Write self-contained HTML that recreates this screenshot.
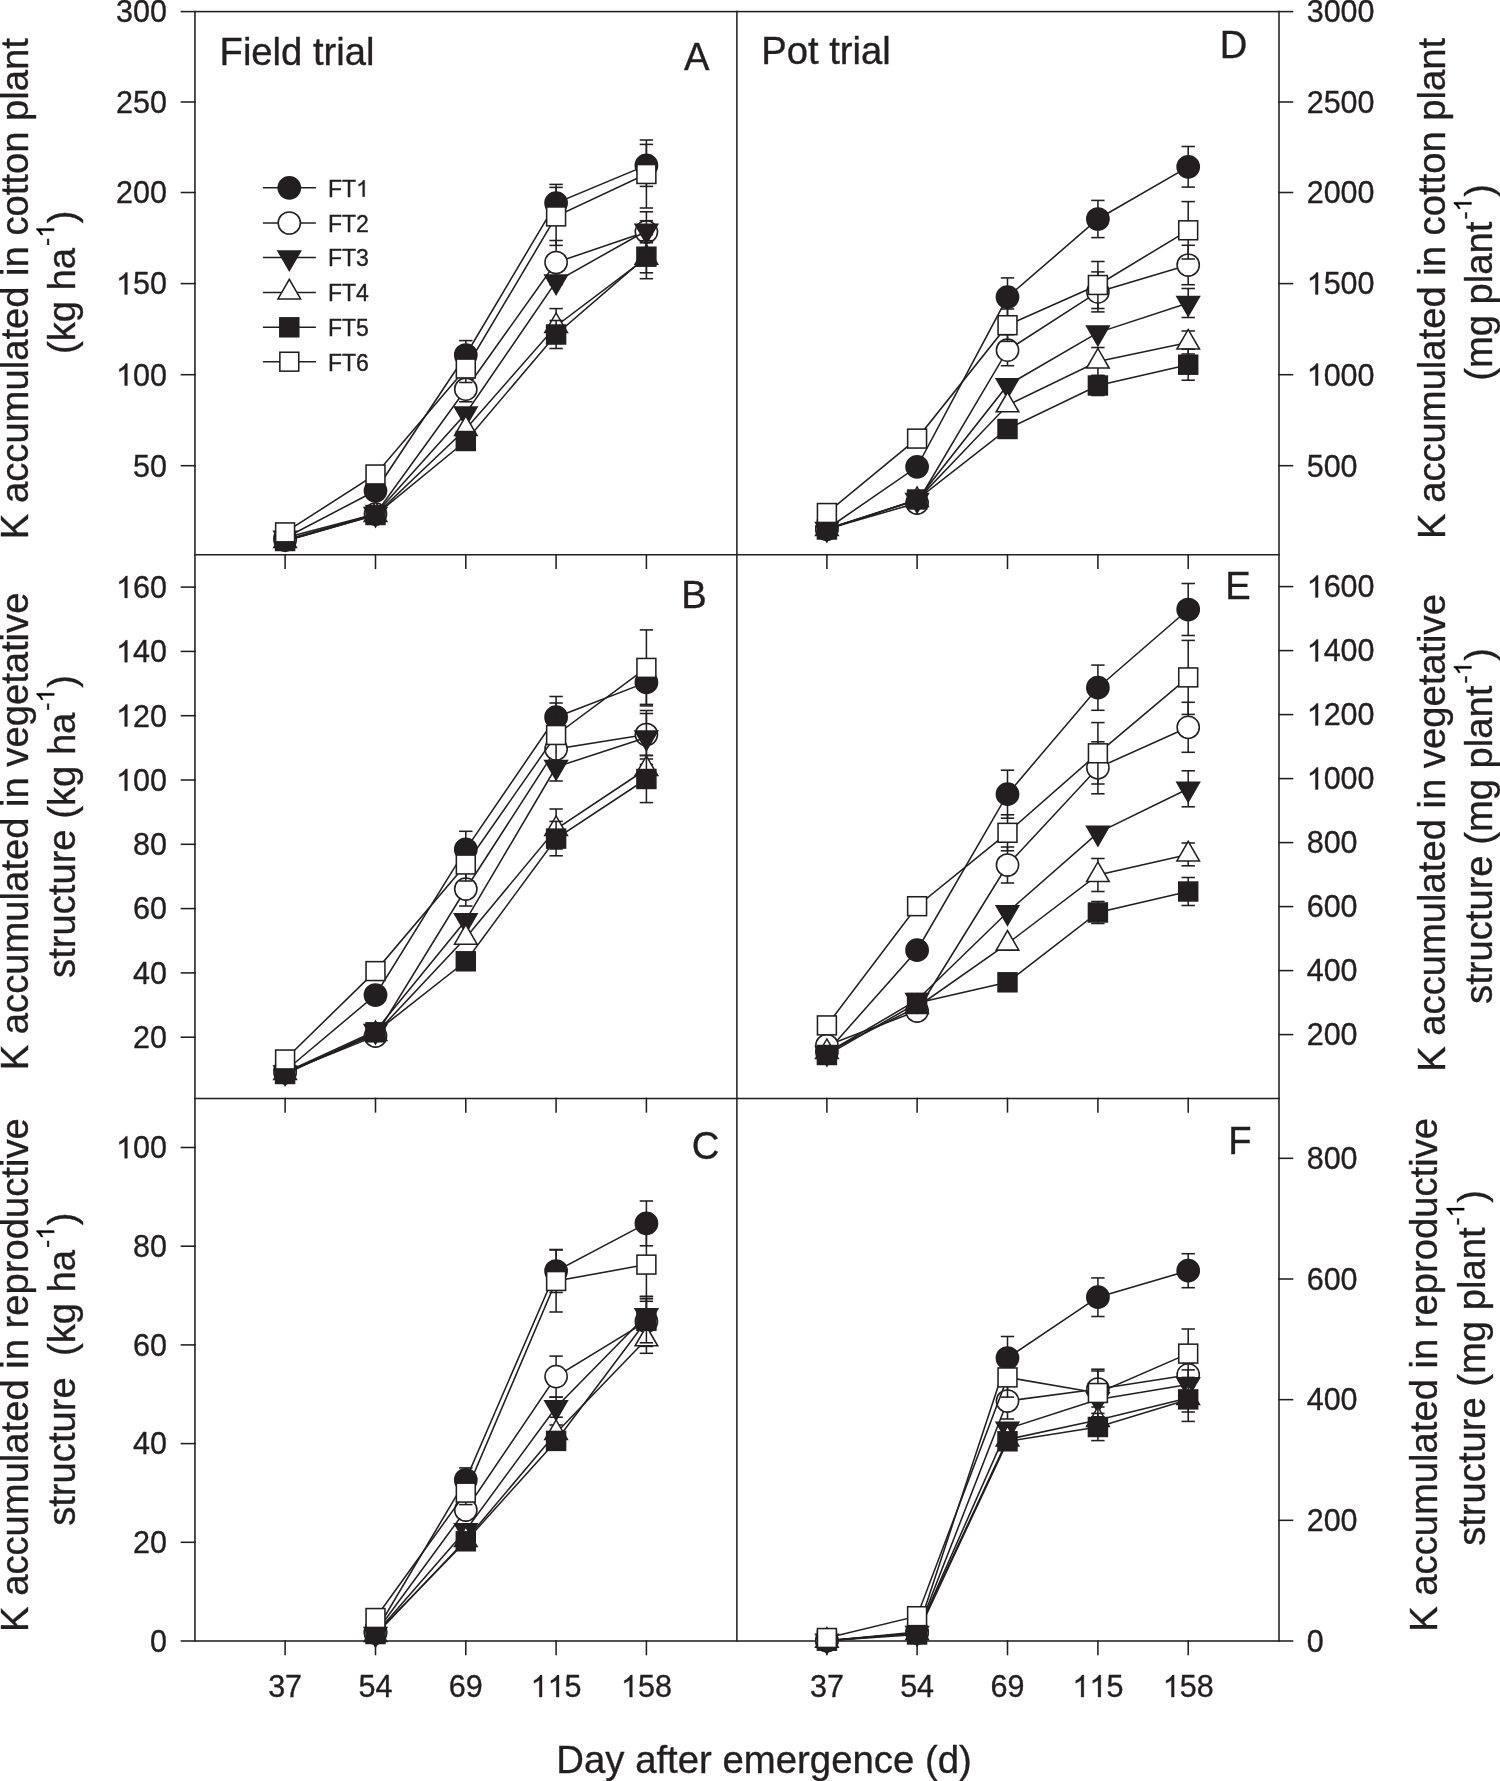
<!DOCTYPE html>
<html><head><meta charset="utf-8"><style>
html,body{margin:0;padding:0;background:#fff;}
svg{display:block;will-change:transform;}
text{font-family:"Liberation Sans", sans-serif;font-kerning:none;font-feature-settings:"kern" 0;}
</style></head><body>
<svg width="1500" height="1781" viewBox="0 0 1500 1781">
<rect width="1500" height="1781" fill="#fff"/>
<g stroke="#231f20" stroke-width="1.55" fill="none" stroke-linecap="square">
<rect x="194.95" y="11.6" width="1084.05" height="1629.40"/>
<line x1="736.90" y1="11.60" x2="736.90" y2="1641.00"/>
<line x1="194.95" y1="554.80" x2="1279.00" y2="554.80"/>
<line x1="194.95" y1="1098.40" x2="1279.00" y2="1098.40"/>
<line x1="181.45" y1="465.70" x2="194.95" y2="465.70"/>
<line x1="181.45" y1="374.70" x2="194.95" y2="374.70"/>
<line x1="181.45" y1="283.60" x2="194.95" y2="283.60"/>
<line x1="181.45" y1="192.50" x2="194.95" y2="192.50"/>
<line x1="181.45" y1="102.00" x2="194.95" y2="102.00"/>
<line x1="181.45" y1="11.60" x2="194.95" y2="11.60"/>
<line x1="181.45" y1="1037.20" x2="194.95" y2="1037.20"/>
<line x1="181.45" y1="972.90" x2="194.95" y2="972.90"/>
<line x1="181.45" y1="908.60" x2="194.95" y2="908.60"/>
<line x1="181.45" y1="844.30" x2="194.95" y2="844.30"/>
<line x1="181.45" y1="780.00" x2="194.95" y2="780.00"/>
<line x1="181.45" y1="715.70" x2="194.95" y2="715.70"/>
<line x1="181.45" y1="651.40" x2="194.95" y2="651.40"/>
<line x1="181.45" y1="587.10" x2="194.95" y2="587.10"/>
<line x1="181.45" y1="1641.00" x2="194.95" y2="1641.00"/>
<line x1="181.45" y1="1542.30" x2="194.95" y2="1542.30"/>
<line x1="181.45" y1="1443.60" x2="194.95" y2="1443.60"/>
<line x1="181.45" y1="1344.90" x2="194.95" y2="1344.90"/>
<line x1="181.45" y1="1246.20" x2="194.95" y2="1246.20"/>
<line x1="181.45" y1="1147.50" x2="194.95" y2="1147.50"/>
<line x1="1279.00" y1="465.70" x2="1292.50" y2="465.70"/>
<line x1="1279.00" y1="374.70" x2="1292.50" y2="374.70"/>
<line x1="1279.00" y1="283.60" x2="1292.50" y2="283.60"/>
<line x1="1279.00" y1="192.50" x2="1292.50" y2="192.50"/>
<line x1="1279.00" y1="102.00" x2="1292.50" y2="102.00"/>
<line x1="1279.00" y1="11.60" x2="1292.50" y2="11.60"/>
<line x1="1279.00" y1="1034.60" x2="1292.50" y2="1034.60"/>
<line x1="1279.00" y1="970.60" x2="1292.50" y2="970.60"/>
<line x1="1279.00" y1="906.60" x2="1292.50" y2="906.60"/>
<line x1="1279.00" y1="842.60" x2="1292.50" y2="842.60"/>
<line x1="1279.00" y1="778.60" x2="1292.50" y2="778.60"/>
<line x1="1279.00" y1="714.60" x2="1292.50" y2="714.60"/>
<line x1="1279.00" y1="650.60" x2="1292.50" y2="650.60"/>
<line x1="1279.00" y1="586.60" x2="1292.50" y2="586.60"/>
<line x1="1279.00" y1="1641.00" x2="1292.50" y2="1641.00"/>
<line x1="1279.00" y1="1520.33" x2="1292.50" y2="1520.33"/>
<line x1="1279.00" y1="1399.66" x2="1292.50" y2="1399.66"/>
<line x1="1279.00" y1="1278.99" x2="1292.50" y2="1278.99"/>
<line x1="1279.00" y1="1158.32" x2="1292.50" y2="1158.32"/>
<line x1="285.10" y1="554.80" x2="285.10" y2="568.30"/>
<line x1="375.50" y1="554.80" x2="375.50" y2="568.30"/>
<line x1="465.80" y1="554.80" x2="465.80" y2="568.30"/>
<line x1="556.10" y1="554.80" x2="556.10" y2="568.30"/>
<line x1="646.40" y1="554.80" x2="646.40" y2="568.30"/>
<line x1="826.90" y1="554.80" x2="826.90" y2="568.30"/>
<line x1="917.10" y1="554.80" x2="917.10" y2="568.30"/>
<line x1="1007.50" y1="554.80" x2="1007.50" y2="568.30"/>
<line x1="1097.90" y1="554.80" x2="1097.90" y2="568.30"/>
<line x1="1188.20" y1="554.80" x2="1188.20" y2="568.30"/>
<line x1="285.10" y1="1098.40" x2="285.10" y2="1111.90"/>
<line x1="375.50" y1="1098.40" x2="375.50" y2="1111.90"/>
<line x1="465.80" y1="1098.40" x2="465.80" y2="1111.90"/>
<line x1="556.10" y1="1098.40" x2="556.10" y2="1111.90"/>
<line x1="646.40" y1="1098.40" x2="646.40" y2="1111.90"/>
<line x1="826.90" y1="1098.40" x2="826.90" y2="1111.90"/>
<line x1="917.10" y1="1098.40" x2="917.10" y2="1111.90"/>
<line x1="1007.50" y1="1098.40" x2="1007.50" y2="1111.90"/>
<line x1="1097.90" y1="1098.40" x2="1097.90" y2="1111.90"/>
<line x1="1188.20" y1="1098.40" x2="1188.20" y2="1111.90"/>
<line x1="285.10" y1="1641.00" x2="285.10" y2="1654.50"/>
<line x1="375.50" y1="1641.00" x2="375.50" y2="1654.50"/>
<line x1="465.80" y1="1641.00" x2="465.80" y2="1654.50"/>
<line x1="556.10" y1="1641.00" x2="556.10" y2="1654.50"/>
<line x1="646.40" y1="1641.00" x2="646.40" y2="1654.50"/>
<line x1="826.90" y1="1641.00" x2="826.90" y2="1654.50"/>
<line x1="917.10" y1="1641.00" x2="917.10" y2="1654.50"/>
<line x1="1007.50" y1="1641.00" x2="1007.50" y2="1654.50"/>
<line x1="1097.90" y1="1641.00" x2="1097.90" y2="1654.50"/>
<line x1="1188.20" y1="1641.00" x2="1188.20" y2="1654.50"/>
</g>
<g stroke="#231f20" stroke-width="1.55" fill="none">
<polyline fill="none" points="285.10,538.00 375.50,490.80 465.80,355.00 556.10,203.10 646.40,165.40"/>
<line x1="375.50" y1="486.80" x2="375.50" y2="494.80"/>
<line x1="368.80" y1="486.80" x2="382.20" y2="486.80"/>
<line x1="368.80" y1="494.80" x2="382.20" y2="494.80"/>
<line x1="465.80" y1="340.60" x2="465.80" y2="369.40"/>
<line x1="459.10" y1="340.60" x2="472.50" y2="340.60"/>
<line x1="459.10" y1="369.40" x2="472.50" y2="369.40"/>
<line x1="556.10" y1="184.40" x2="556.10" y2="221.80"/>
<line x1="549.40" y1="184.40" x2="562.80" y2="184.40"/>
<line x1="549.40" y1="221.80" x2="562.80" y2="221.80"/>
<line x1="646.40" y1="144.40" x2="646.40" y2="186.40"/>
<line x1="639.70" y1="144.40" x2="653.10" y2="144.40"/>
<line x1="639.70" y1="186.40" x2="653.10" y2="186.40"/>
<circle cx="285.10" cy="538.00" r="11.1" fill="#231f20"/>
<circle cx="375.50" cy="490.80" r="11.1" fill="#231f20"/>
<circle cx="465.80" cy="355.00" r="11.1" fill="#231f20"/>
<circle cx="556.10" cy="203.10" r="11.1" fill="#231f20"/>
<circle cx="646.40" cy="165.40" r="11.1" fill="#231f20"/>
<polyline fill="none" points="285.10,540.00 375.50,514.00 465.80,389.20 556.10,262.50 646.40,231.80"/>
<line x1="465.80" y1="376.60" x2="465.80" y2="401.80"/>
<line x1="459.10" y1="376.60" x2="472.50" y2="376.60"/>
<line x1="459.10" y1="401.80" x2="472.50" y2="401.80"/>
<line x1="556.10" y1="240.50" x2="556.10" y2="284.50"/>
<line x1="549.40" y1="240.50" x2="562.80" y2="240.50"/>
<line x1="549.40" y1="284.50" x2="562.80" y2="284.50"/>
<line x1="646.40" y1="211.80" x2="646.40" y2="251.80"/>
<line x1="639.70" y1="211.80" x2="653.10" y2="211.80"/>
<line x1="639.70" y1="251.80" x2="653.10" y2="251.80"/>
<circle cx="285.10" cy="540.00" r="11.1" fill="#fff"/>
<circle cx="375.50" cy="514.00" r="11.1" fill="#fff"/>
<circle cx="465.80" cy="389.20" r="11.1" fill="#fff"/>
<circle cx="556.10" cy="262.50" r="11.1" fill="#fff"/>
<circle cx="646.40" cy="231.80" r="11.1" fill="#fff"/>
<polyline fill="none" points="285.10,537.80 375.50,514.00 465.80,413.50 556.10,281.50 646.40,230.70"/>
<line x1="646.40" y1="220.70" x2="646.40" y2="240.70"/>
<line x1="639.70" y1="220.70" x2="653.10" y2="220.70"/>
<line x1="639.70" y1="240.70" x2="653.10" y2="240.70"/>
<polygon points="273.80,531.28 296.40,531.28 285.10,550.85" fill="#231f20"/>
<polygon points="364.20,507.48 386.80,507.48 375.50,527.05" fill="#231f20"/>
<polygon points="454.50,406.98 477.10,406.98 465.80,426.55" fill="#231f20"/>
<polygon points="544.80,274.98 567.40,274.98 556.10,294.55" fill="#231f20"/>
<polygon points="635.10,224.18 657.70,224.18 646.40,243.75" fill="#231f20"/>
<polyline fill="none" points="285.10,541.00 375.50,515.00 465.80,429.00 556.10,326.00 646.40,257.80"/>
<line x1="556.10" y1="308.60" x2="556.10" y2="343.40"/>
<line x1="549.40" y1="308.60" x2="562.80" y2="308.60"/>
<line x1="549.40" y1="343.40" x2="562.80" y2="343.40"/>
<line x1="646.40" y1="242.80" x2="646.40" y2="272.80"/>
<line x1="639.70" y1="242.80" x2="653.10" y2="242.80"/>
<line x1="639.70" y1="272.80" x2="653.10" y2="272.80"/>
<polygon points="273.80,547.52 296.40,547.52 285.10,527.95" fill="#fff"/>
<polygon points="364.20,521.52 386.80,521.52 375.50,501.95" fill="#fff"/>
<polygon points="454.50,435.52 477.10,435.52 465.80,415.95" fill="#fff"/>
<polygon points="544.80,332.52 567.40,332.52 556.10,312.95" fill="#fff"/>
<polygon points="635.10,264.32 657.70,264.32 646.40,244.75" fill="#fff"/>
<polyline fill="none" points="285.10,541.00 375.50,515.00 465.80,441.00 556.10,334.50 646.40,256.70"/>
<line x1="556.10" y1="320.50" x2="556.10" y2="348.50"/>
<line x1="549.40" y1="320.50" x2="562.80" y2="320.50"/>
<line x1="549.40" y1="348.50" x2="562.80" y2="348.50"/>
<line x1="646.40" y1="234.70" x2="646.40" y2="278.70"/>
<line x1="639.70" y1="234.70" x2="653.10" y2="234.70"/>
<line x1="639.70" y1="278.70" x2="653.10" y2="278.70"/>
<rect x="275.65" y="531.55" width="18.9" height="18.9" fill="#231f20"/>
<rect x="366.05" y="505.55" width="18.9" height="18.9" fill="#231f20"/>
<rect x="456.35" y="431.55" width="18.9" height="18.9" fill="#231f20"/>
<rect x="546.65" y="325.05" width="18.9" height="18.9" fill="#231f20"/>
<rect x="636.95" y="247.25" width="18.9" height="18.9" fill="#231f20"/>
<polyline fill="none" points="285.10,532.40 375.50,474.50 465.80,368.50 556.10,216.40 646.40,174.00"/>
<line x1="375.50" y1="470.50" x2="375.50" y2="478.50"/>
<line x1="368.80" y1="470.50" x2="382.20" y2="470.50"/>
<line x1="368.80" y1="478.50" x2="382.20" y2="478.50"/>
<line x1="465.80" y1="354.50" x2="465.80" y2="382.50"/>
<line x1="459.10" y1="354.50" x2="472.50" y2="354.50"/>
<line x1="459.10" y1="382.50" x2="472.50" y2="382.50"/>
<line x1="556.10" y1="187.40" x2="556.10" y2="245.40"/>
<line x1="549.40" y1="187.40" x2="562.80" y2="187.40"/>
<line x1="549.40" y1="245.40" x2="562.80" y2="245.40"/>
<line x1="646.40" y1="140.00" x2="646.40" y2="208.00"/>
<line x1="639.70" y1="140.00" x2="653.10" y2="140.00"/>
<line x1="639.70" y1="208.00" x2="653.10" y2="208.00"/>
<rect x="275.65" y="522.95" width="18.9" height="18.9" fill="#fff"/>
<rect x="366.05" y="465.05" width="18.9" height="18.9" fill="#fff"/>
<rect x="456.35" y="359.05" width="18.9" height="18.9" fill="#fff"/>
<rect x="546.65" y="206.95" width="18.9" height="18.9" fill="#fff"/>
<rect x="636.95" y="164.55" width="18.9" height="18.9" fill="#fff"/>
<polyline fill="none" points="285.10,1071.00 375.50,995.00 465.80,849.30 556.10,717.20 646.40,682.40"/>
<line x1="465.80" y1="831.30" x2="465.80" y2="867.30"/>
<line x1="459.10" y1="831.30" x2="472.50" y2="831.30"/>
<line x1="459.10" y1="867.30" x2="472.50" y2="867.30"/>
<line x1="556.10" y1="696.50" x2="556.10" y2="737.90"/>
<line x1="549.40" y1="696.50" x2="562.80" y2="696.50"/>
<line x1="549.40" y1="737.90" x2="562.80" y2="737.90"/>
<line x1="646.40" y1="660.40" x2="646.40" y2="704.40"/>
<line x1="639.70" y1="660.40" x2="653.10" y2="660.40"/>
<line x1="639.70" y1="704.40" x2="653.10" y2="704.40"/>
<circle cx="285.10" cy="1071.00" r="11.1" fill="#231f20"/>
<circle cx="375.50" cy="995.00" r="11.1" fill="#231f20"/>
<circle cx="465.80" cy="849.30" r="11.1" fill="#231f20"/>
<circle cx="556.10" cy="717.20" r="11.1" fill="#231f20"/>
<circle cx="646.40" cy="682.40" r="11.1" fill="#231f20"/>
<polyline fill="none" points="285.10,1072.50 375.50,1036.00 465.80,889.00 556.10,749.00 646.40,734.50"/>
<line x1="465.80" y1="872.00" x2="465.80" y2="906.00"/>
<line x1="459.10" y1="872.00" x2="472.50" y2="872.00"/>
<line x1="459.10" y1="906.00" x2="472.50" y2="906.00"/>
<line x1="556.10" y1="717.00" x2="556.10" y2="781.00"/>
<line x1="549.40" y1="717.00" x2="562.80" y2="717.00"/>
<line x1="549.40" y1="781.00" x2="562.80" y2="781.00"/>
<line x1="646.40" y1="713.50" x2="646.40" y2="755.50"/>
<line x1="639.70" y1="713.50" x2="653.10" y2="713.50"/>
<line x1="639.70" y1="755.50" x2="653.10" y2="755.50"/>
<circle cx="285.10" cy="1072.50" r="11.1" fill="#fff"/>
<circle cx="375.50" cy="1036.00" r="11.1" fill="#fff"/>
<circle cx="465.80" cy="889.00" r="11.1" fill="#fff"/>
<circle cx="556.10" cy="749.00" r="11.1" fill="#fff"/>
<circle cx="646.40" cy="734.50" r="11.1" fill="#fff"/>
<polyline fill="none" points="285.10,1072.50 375.50,1031.00 465.80,920.30 556.10,767.00 646.40,737.50"/>
<line x1="646.40" y1="710.50" x2="646.40" y2="764.50"/>
<line x1="639.70" y1="710.50" x2="653.10" y2="710.50"/>
<line x1="639.70" y1="764.50" x2="653.10" y2="764.50"/>
<polygon points="273.80,1065.98 296.40,1065.98 285.10,1085.55" fill="#231f20"/>
<polygon points="364.20,1024.48 386.80,1024.48 375.50,1044.05" fill="#231f20"/>
<polygon points="454.50,913.78 477.10,913.78 465.80,933.35" fill="#231f20"/>
<polygon points="544.80,760.48 567.40,760.48 556.10,780.05" fill="#231f20"/>
<polygon points="635.10,730.98 657.70,730.98 646.40,750.55" fill="#231f20"/>
<polyline fill="none" points="285.10,1073.00 375.50,1034.00 465.80,937.70 556.10,829.00 646.40,769.00"/>
<line x1="556.10" y1="809.00" x2="556.10" y2="849.00"/>
<line x1="549.40" y1="809.00" x2="562.80" y2="809.00"/>
<line x1="549.40" y1="849.00" x2="562.80" y2="849.00"/>
<line x1="646.40" y1="759.00" x2="646.40" y2="779.00"/>
<line x1="639.70" y1="759.00" x2="653.10" y2="759.00"/>
<line x1="639.70" y1="779.00" x2="653.10" y2="779.00"/>
<polygon points="273.80,1079.52 296.40,1079.52 285.10,1059.95" fill="#fff"/>
<polygon points="364.20,1040.52 386.80,1040.52 375.50,1020.95" fill="#fff"/>
<polygon points="454.50,944.22 477.10,944.22 465.80,924.65" fill="#fff"/>
<polygon points="544.80,835.52 567.40,835.52 556.10,815.95" fill="#fff"/>
<polygon points="635.10,775.52 657.70,775.52 646.40,755.95" fill="#fff"/>
<polyline fill="none" points="285.10,1074.00 375.50,1032.30 465.80,961.30 556.10,838.60 646.40,779.00"/>
<line x1="556.10" y1="821.40" x2="556.10" y2="855.80"/>
<line x1="549.40" y1="821.40" x2="562.80" y2="821.40"/>
<line x1="549.40" y1="855.80" x2="562.80" y2="855.80"/>
<line x1="646.40" y1="755.40" x2="646.40" y2="802.60"/>
<line x1="639.70" y1="755.40" x2="653.10" y2="755.40"/>
<line x1="639.70" y1="802.60" x2="653.10" y2="802.60"/>
<rect x="275.65" y="1064.55" width="18.9" height="18.9" fill="#231f20"/>
<rect x="366.05" y="1022.85" width="18.9" height="18.9" fill="#231f20"/>
<rect x="456.35" y="951.85" width="18.9" height="18.9" fill="#231f20"/>
<rect x="546.65" y="829.15" width="18.9" height="18.9" fill="#231f20"/>
<rect x="636.95" y="769.55" width="18.9" height="18.9" fill="#231f20"/>
<polyline fill="none" points="285.10,1059.50 375.50,971.10 465.80,864.50 556.10,735.00 646.40,667.90"/>
<line x1="465.80" y1="848.00" x2="465.80" y2="881.00"/>
<line x1="459.10" y1="848.00" x2="472.50" y2="848.00"/>
<line x1="459.10" y1="881.00" x2="472.50" y2="881.00"/>
<line x1="556.10" y1="703.00" x2="556.10" y2="767.00"/>
<line x1="549.40" y1="703.00" x2="562.80" y2="703.00"/>
<line x1="549.40" y1="767.00" x2="562.80" y2="767.00"/>
<line x1="646.40" y1="629.90" x2="646.40" y2="705.90"/>
<line x1="639.70" y1="629.90" x2="653.10" y2="629.90"/>
<line x1="639.70" y1="705.90" x2="653.10" y2="705.90"/>
<rect x="275.65" y="1050.05" width="18.9" height="18.9" fill="#fff"/>
<rect x="366.05" y="961.65" width="18.9" height="18.9" fill="#fff"/>
<rect x="456.35" y="855.05" width="18.9" height="18.9" fill="#fff"/>
<rect x="546.65" y="725.55" width="18.9" height="18.9" fill="#fff"/>
<rect x="636.95" y="658.45" width="18.9" height="18.9" fill="#fff"/>
<polyline fill="none" points="375.50,1632.00 465.80,1479.90 556.10,1271.00 646.40,1223.40"/>
<line x1="465.80" y1="1467.90" x2="465.80" y2="1491.90"/>
<line x1="459.10" y1="1467.90" x2="472.50" y2="1467.90"/>
<line x1="459.10" y1="1491.90" x2="472.50" y2="1491.90"/>
<line x1="556.10" y1="1249.50" x2="556.10" y2="1292.50"/>
<line x1="549.40" y1="1249.50" x2="562.80" y2="1249.50"/>
<line x1="549.40" y1="1292.50" x2="562.80" y2="1292.50"/>
<line x1="646.40" y1="1201.00" x2="646.40" y2="1245.80"/>
<line x1="639.70" y1="1201.00" x2="653.10" y2="1201.00"/>
<line x1="639.70" y1="1245.80" x2="653.10" y2="1245.80"/>
<circle cx="375.50" cy="1632.00" r="11.1" fill="#231f20"/>
<circle cx="465.80" cy="1479.90" r="11.1" fill="#231f20"/>
<circle cx="556.10" cy="1271.00" r="11.1" fill="#231f20"/>
<circle cx="646.40" cy="1223.40" r="11.1" fill="#231f20"/>
<polyline fill="none" points="375.50,1633.00 465.80,1510.00 556.10,1376.60 646.40,1321.40"/>
<line x1="465.80" y1="1502.00" x2="465.80" y2="1518.00"/>
<line x1="459.10" y1="1502.00" x2="472.50" y2="1502.00"/>
<line x1="459.10" y1="1518.00" x2="472.50" y2="1518.00"/>
<line x1="556.10" y1="1356.10" x2="556.10" y2="1397.10"/>
<line x1="549.40" y1="1356.10" x2="562.80" y2="1356.10"/>
<line x1="549.40" y1="1397.10" x2="562.80" y2="1397.10"/>
<line x1="646.40" y1="1296.40" x2="646.40" y2="1346.40"/>
<line x1="639.70" y1="1296.40" x2="653.10" y2="1296.40"/>
<line x1="639.70" y1="1346.40" x2="653.10" y2="1346.40"/>
<circle cx="375.50" cy="1633.00" r="11.1" fill="#fff"/>
<circle cx="465.80" cy="1510.00" r="11.1" fill="#fff"/>
<circle cx="556.10" cy="1376.60" r="11.1" fill="#fff"/>
<circle cx="646.40" cy="1321.40" r="11.1" fill="#fff"/>
<polyline fill="none" points="375.50,1634.00 465.80,1530.30 556.10,1407.20 646.40,1315.30"/>
<line x1="556.10" y1="1397.20" x2="556.10" y2="1417.20"/>
<line x1="549.40" y1="1397.20" x2="562.80" y2="1397.20"/>
<line x1="549.40" y1="1417.20" x2="562.80" y2="1417.20"/>
<line x1="646.40" y1="1301.30" x2="646.40" y2="1329.30"/>
<line x1="639.70" y1="1301.30" x2="653.10" y2="1301.30"/>
<line x1="639.70" y1="1329.30" x2="653.10" y2="1329.30"/>
<polygon points="364.20,1627.48 386.80,1627.48 375.50,1647.05" fill="#231f20"/>
<polygon points="454.50,1523.78 477.10,1523.78 465.80,1543.35" fill="#231f20"/>
<polygon points="544.80,1400.68 567.40,1400.68 556.10,1420.25" fill="#231f20"/>
<polygon points="635.10,1308.78 657.70,1308.78 646.40,1328.35" fill="#231f20"/>
<polyline fill="none" points="375.50,1635.00 465.80,1540.00 556.10,1433.00 646.40,1339.30"/>
<line x1="556.10" y1="1425.00" x2="556.10" y2="1441.00"/>
<line x1="549.40" y1="1425.00" x2="562.80" y2="1425.00"/>
<line x1="549.40" y1="1441.00" x2="562.80" y2="1441.00"/>
<line x1="646.40" y1="1325.30" x2="646.40" y2="1353.30"/>
<line x1="639.70" y1="1325.30" x2="653.10" y2="1325.30"/>
<line x1="639.70" y1="1353.30" x2="653.10" y2="1353.30"/>
<polygon points="364.20,1641.52 386.80,1641.52 375.50,1621.95" fill="#fff"/>
<polygon points="454.50,1546.52 477.10,1546.52 465.80,1526.95" fill="#fff"/>
<polygon points="544.80,1439.52 567.40,1439.52 556.10,1419.95" fill="#fff"/>
<polygon points="635.10,1345.82 657.70,1345.82 646.40,1326.25" fill="#fff"/>
<polyline fill="none" points="375.50,1634.00 465.80,1541.30 556.10,1440.90 646.40,1320.80"/>
<line x1="556.10" y1="1432.90" x2="556.10" y2="1448.90"/>
<line x1="549.40" y1="1432.90" x2="562.80" y2="1432.90"/>
<line x1="549.40" y1="1448.90" x2="562.80" y2="1448.90"/>
<line x1="646.40" y1="1298.80" x2="646.40" y2="1342.80"/>
<line x1="639.70" y1="1298.80" x2="653.10" y2="1298.80"/>
<line x1="639.70" y1="1342.80" x2="653.10" y2="1342.80"/>
<rect x="366.05" y="1624.55" width="18.9" height="18.9" fill="#231f20"/>
<rect x="456.35" y="1531.85" width="18.9" height="18.9" fill="#231f20"/>
<rect x="546.65" y="1431.45" width="18.9" height="18.9" fill="#231f20"/>
<rect x="636.95" y="1311.35" width="18.9" height="18.9" fill="#231f20"/>
<polyline fill="none" points="375.50,1618.00 465.80,1492.60 556.10,1281.00 646.40,1264.60"/>
<line x1="465.80" y1="1480.60" x2="465.80" y2="1504.60"/>
<line x1="459.10" y1="1480.60" x2="472.50" y2="1480.60"/>
<line x1="459.10" y1="1504.60" x2="472.50" y2="1504.60"/>
<line x1="556.10" y1="1250.00" x2="556.10" y2="1312.00"/>
<line x1="549.40" y1="1250.00" x2="562.80" y2="1250.00"/>
<line x1="549.40" y1="1312.00" x2="562.80" y2="1312.00"/>
<line x1="646.40" y1="1232.60" x2="646.40" y2="1296.60"/>
<line x1="639.70" y1="1232.60" x2="653.10" y2="1232.60"/>
<line x1="639.70" y1="1296.60" x2="653.10" y2="1296.60"/>
<rect x="366.05" y="1608.55" width="18.9" height="18.9" fill="#fff"/>
<rect x="456.35" y="1483.15" width="18.9" height="18.9" fill="#fff"/>
<rect x="546.65" y="1271.55" width="18.9" height="18.9" fill="#fff"/>
<rect x="636.95" y="1255.15" width="18.9" height="18.9" fill="#fff"/>
<polyline fill="none" points="826.90,529.00 917.10,466.80 1007.50,297.10 1097.90,219.00 1188.20,166.80"/>
<line x1="917.10" y1="462.80" x2="917.10" y2="470.80"/>
<line x1="910.40" y1="462.80" x2="923.80" y2="462.80"/>
<line x1="910.40" y1="470.80" x2="923.80" y2="470.80"/>
<line x1="1007.50" y1="277.90" x2="1007.50" y2="316.30"/>
<line x1="1000.80" y1="277.90" x2="1014.20" y2="277.90"/>
<line x1="1000.80" y1="316.30" x2="1014.20" y2="316.30"/>
<line x1="1097.90" y1="200.40" x2="1097.90" y2="237.60"/>
<line x1="1091.20" y1="200.40" x2="1104.60" y2="200.40"/>
<line x1="1091.20" y1="237.60" x2="1104.60" y2="237.60"/>
<line x1="1188.20" y1="146.50" x2="1188.20" y2="187.10"/>
<line x1="1181.50" y1="146.50" x2="1194.90" y2="146.50"/>
<line x1="1181.50" y1="187.10" x2="1194.90" y2="187.10"/>
<circle cx="826.90" cy="529.00" r="11.1" fill="#231f20"/>
<circle cx="917.10" cy="466.80" r="11.1" fill="#231f20"/>
<circle cx="1007.50" cy="297.10" r="11.1" fill="#231f20"/>
<circle cx="1097.90" cy="219.00" r="11.1" fill="#231f20"/>
<circle cx="1188.20" cy="166.80" r="11.1" fill="#231f20"/>
<polyline fill="none" points="826.90,529.00 917.10,503.00 1007.50,350.20 1097.90,291.90 1188.20,265.00"/>
<line x1="917.10" y1="499.00" x2="917.10" y2="507.00"/>
<line x1="910.40" y1="499.00" x2="923.80" y2="499.00"/>
<line x1="910.40" y1="507.00" x2="923.80" y2="507.00"/>
<line x1="1007.50" y1="334.70" x2="1007.50" y2="365.70"/>
<line x1="1000.80" y1="334.70" x2="1014.20" y2="334.70"/>
<line x1="1000.80" y1="365.70" x2="1014.20" y2="365.70"/>
<line x1="1097.90" y1="271.90" x2="1097.90" y2="311.90"/>
<line x1="1091.20" y1="271.90" x2="1104.60" y2="271.90"/>
<line x1="1091.20" y1="311.90" x2="1104.60" y2="311.90"/>
<line x1="1188.20" y1="245.30" x2="1188.20" y2="284.70"/>
<line x1="1181.50" y1="245.30" x2="1194.90" y2="245.30"/>
<line x1="1181.50" y1="284.70" x2="1194.90" y2="284.70"/>
<circle cx="826.90" cy="529.00" r="11.1" fill="#fff"/>
<circle cx="917.10" cy="503.00" r="11.1" fill="#fff"/>
<circle cx="1007.50" cy="350.20" r="11.1" fill="#fff"/>
<circle cx="1097.90" cy="291.90" r="11.1" fill="#fff"/>
<circle cx="1188.20" cy="265.00" r="11.1" fill="#fff"/>
<polyline fill="none" points="826.90,529.00 917.10,500.00 1007.50,385.20 1097.90,332.60 1188.20,303.00"/>
<line x1="1188.20" y1="288.50" x2="1188.20" y2="317.50"/>
<line x1="1181.50" y1="288.50" x2="1194.90" y2="288.50"/>
<line x1="1181.50" y1="317.50" x2="1194.90" y2="317.50"/>
<polygon points="815.60,522.48 838.20,522.48 826.90,542.05" fill="#231f20"/>
<polygon points="905.80,493.48 928.40,493.48 917.10,513.05" fill="#231f20"/>
<polygon points="996.20,378.68 1018.80,378.68 1007.50,398.25" fill="#231f20"/>
<polygon points="1086.60,326.08 1109.20,326.08 1097.90,345.65" fill="#231f20"/>
<polygon points="1176.90,296.48 1199.50,296.48 1188.20,316.05" fill="#231f20"/>
<polyline fill="none" points="826.90,529.00 917.10,500.00 1007.50,405.30 1097.90,361.50 1188.20,342.50"/>
<line x1="1097.90" y1="347.50" x2="1097.90" y2="375.50"/>
<line x1="1091.20" y1="347.50" x2="1104.60" y2="347.50"/>
<line x1="1091.20" y1="375.50" x2="1104.60" y2="375.50"/>
<line x1="1188.20" y1="331.00" x2="1188.20" y2="354.00"/>
<line x1="1181.50" y1="331.00" x2="1194.90" y2="331.00"/>
<line x1="1181.50" y1="354.00" x2="1194.90" y2="354.00"/>
<polygon points="815.60,535.52 838.20,535.52 826.90,515.95" fill="#fff"/>
<polygon points="905.80,506.52 928.40,506.52 917.10,486.95" fill="#fff"/>
<polygon points="996.20,411.82 1018.80,411.82 1007.50,392.25" fill="#fff"/>
<polygon points="1086.60,368.02 1109.20,368.02 1097.90,348.45" fill="#fff"/>
<polygon points="1176.90,349.02 1199.50,349.02 1188.20,329.45" fill="#fff"/>
<polyline fill="none" points="826.90,529.50 917.10,499.50 1007.50,429.00 1097.90,385.50 1188.20,364.70"/>
<line x1="917.10" y1="495.50" x2="917.10" y2="503.50"/>
<line x1="910.40" y1="495.50" x2="923.80" y2="495.50"/>
<line x1="910.40" y1="503.50" x2="923.80" y2="503.50"/>
<line x1="1007.50" y1="421.00" x2="1007.50" y2="437.00"/>
<line x1="1000.80" y1="421.00" x2="1014.20" y2="421.00"/>
<line x1="1000.80" y1="437.00" x2="1014.20" y2="437.00"/>
<line x1="1097.90" y1="375.50" x2="1097.90" y2="395.50"/>
<line x1="1091.20" y1="375.50" x2="1104.60" y2="375.50"/>
<line x1="1091.20" y1="395.50" x2="1104.60" y2="395.50"/>
<line x1="1188.20" y1="349.20" x2="1188.20" y2="380.20"/>
<line x1="1181.50" y1="349.20" x2="1194.90" y2="349.20"/>
<line x1="1181.50" y1="380.20" x2="1194.90" y2="380.20"/>
<rect x="817.45" y="520.05" width="18.9" height="18.9" fill="#231f20"/>
<rect x="907.65" y="490.05" width="18.9" height="18.9" fill="#231f20"/>
<rect x="998.05" y="419.55" width="18.9" height="18.9" fill="#231f20"/>
<rect x="1088.45" y="376.05" width="18.9" height="18.9" fill="#231f20"/>
<rect x="1178.75" y="355.25" width="18.9" height="18.9" fill="#231f20"/>
<polyline fill="none" points="826.90,513.00 917.10,438.60 1007.50,325.20 1097.90,285.00 1188.20,230.30"/>
<line x1="1007.50" y1="309.00" x2="1007.50" y2="341.40"/>
<line x1="1000.80" y1="309.00" x2="1014.20" y2="309.00"/>
<line x1="1000.80" y1="341.40" x2="1014.20" y2="341.40"/>
<line x1="1097.90" y1="261.50" x2="1097.90" y2="308.50"/>
<line x1="1091.20" y1="261.50" x2="1104.60" y2="261.50"/>
<line x1="1091.20" y1="308.50" x2="1104.60" y2="308.50"/>
<line x1="1188.20" y1="201.60" x2="1188.20" y2="259.00"/>
<line x1="1181.50" y1="201.60" x2="1194.90" y2="201.60"/>
<line x1="1181.50" y1="259.00" x2="1194.90" y2="259.00"/>
<rect x="817.45" y="503.55" width="18.9" height="18.9" fill="#fff"/>
<rect x="907.65" y="429.15" width="18.9" height="18.9" fill="#fff"/>
<rect x="998.05" y="315.75" width="18.9" height="18.9" fill="#fff"/>
<rect x="1088.45" y="275.55" width="18.9" height="18.9" fill="#fff"/>
<rect x="1178.75" y="220.85" width="18.9" height="18.9" fill="#fff"/>
<polyline fill="none" points="826.90,1052.00 917.10,950.20 1007.50,794.20 1097.90,687.70 1188.20,609.50"/>
<line x1="1007.50" y1="770.20" x2="1007.50" y2="818.20"/>
<line x1="1000.80" y1="770.20" x2="1014.20" y2="770.20"/>
<line x1="1000.80" y1="818.20" x2="1014.20" y2="818.20"/>
<line x1="1097.90" y1="665.10" x2="1097.90" y2="710.30"/>
<line x1="1091.20" y1="665.10" x2="1104.60" y2="665.10"/>
<line x1="1091.20" y1="710.30" x2="1104.60" y2="710.30"/>
<line x1="1188.20" y1="583.50" x2="1188.20" y2="635.50"/>
<line x1="1181.50" y1="583.50" x2="1194.90" y2="583.50"/>
<line x1="1181.50" y1="635.50" x2="1194.90" y2="635.50"/>
<circle cx="826.90" cy="1052.00" r="11.1" fill="#231f20"/>
<circle cx="917.10" cy="950.20" r="11.1" fill="#231f20"/>
<circle cx="1007.50" cy="794.20" r="11.1" fill="#231f20"/>
<circle cx="1097.90" cy="687.70" r="11.1" fill="#231f20"/>
<circle cx="1188.20" cy="609.50" r="11.1" fill="#231f20"/>
<polyline fill="none" points="826.90,1045.50 917.10,1011.00 1007.50,865.00 1097.90,767.80 1188.20,727.30"/>
<line x1="1007.50" y1="847.00" x2="1007.50" y2="883.00"/>
<line x1="1000.80" y1="847.00" x2="1014.20" y2="847.00"/>
<line x1="1000.80" y1="883.00" x2="1014.20" y2="883.00"/>
<line x1="1097.90" y1="741.80" x2="1097.90" y2="793.80"/>
<line x1="1091.20" y1="741.80" x2="1104.60" y2="741.80"/>
<line x1="1091.20" y1="793.80" x2="1104.60" y2="793.80"/>
<line x1="1188.20" y1="702.30" x2="1188.20" y2="752.30"/>
<line x1="1181.50" y1="702.30" x2="1194.90" y2="702.30"/>
<line x1="1181.50" y1="752.30" x2="1194.90" y2="752.30"/>
<circle cx="826.90" cy="1045.50" r="11.1" fill="#fff"/>
<circle cx="917.10" cy="1011.00" r="11.1" fill="#fff"/>
<circle cx="1007.50" cy="865.00" r="11.1" fill="#fff"/>
<circle cx="1097.90" cy="767.80" r="11.1" fill="#fff"/>
<circle cx="1188.20" cy="727.30" r="11.1" fill="#fff"/>
<polyline fill="none" points="826.90,1053.00 917.10,1000.00 1007.50,912.20 1097.90,832.90 1188.20,788.80"/>
<line x1="1188.20" y1="770.80" x2="1188.20" y2="806.80"/>
<line x1="1181.50" y1="770.80" x2="1194.90" y2="770.80"/>
<line x1="1181.50" y1="806.80" x2="1194.90" y2="806.80"/>
<polygon points="815.60,1046.48 838.20,1046.48 826.90,1066.05" fill="#231f20"/>
<polygon points="905.80,993.48 928.40,993.48 917.10,1013.05" fill="#231f20"/>
<polygon points="996.20,905.68 1018.80,905.68 1007.50,925.25" fill="#231f20"/>
<polygon points="1086.60,826.38 1109.20,826.38 1097.90,845.95" fill="#231f20"/>
<polygon points="1176.90,782.28 1199.50,782.28 1188.20,801.85" fill="#231f20"/>
<polyline fill="none" points="826.90,1052.00 917.10,1007.00 1007.50,943.60 1097.90,875.00 1188.20,854.40"/>
<line x1="1097.90" y1="858.50" x2="1097.90" y2="891.50"/>
<line x1="1091.20" y1="858.50" x2="1104.60" y2="858.50"/>
<line x1="1091.20" y1="891.50" x2="1104.60" y2="891.50"/>
<line x1="1188.20" y1="843.00" x2="1188.20" y2="865.80"/>
<line x1="1181.50" y1="843.00" x2="1194.90" y2="843.00"/>
<line x1="1181.50" y1="865.80" x2="1194.90" y2="865.80"/>
<polygon points="815.60,1058.52 838.20,1058.52 826.90,1038.95" fill="#fff"/>
<polygon points="905.80,1013.52 928.40,1013.52 917.10,993.95" fill="#fff"/>
<polygon points="996.20,950.12 1018.80,950.12 1007.50,930.55" fill="#fff"/>
<polygon points="1086.60,881.52 1109.20,881.52 1097.90,861.95" fill="#fff"/>
<polygon points="1176.90,860.92 1199.50,860.92 1188.20,841.35" fill="#fff"/>
<polyline fill="none" points="826.90,1055.00 917.10,1003.00 1007.50,982.30 1097.90,912.50 1188.20,891.50"/>
<line x1="1097.90" y1="901.50" x2="1097.90" y2="923.50"/>
<line x1="1091.20" y1="901.50" x2="1104.60" y2="901.50"/>
<line x1="1091.20" y1="923.50" x2="1104.60" y2="923.50"/>
<line x1="1188.20" y1="877.50" x2="1188.20" y2="905.50"/>
<line x1="1181.50" y1="877.50" x2="1194.90" y2="877.50"/>
<line x1="1181.50" y1="905.50" x2="1194.90" y2="905.50"/>
<rect x="817.45" y="1045.55" width="18.9" height="18.9" fill="#231f20"/>
<rect x="907.65" y="993.55" width="18.9" height="18.9" fill="#231f20"/>
<rect x="998.05" y="972.85" width="18.9" height="18.9" fill="#231f20"/>
<rect x="1088.45" y="903.05" width="18.9" height="18.9" fill="#231f20"/>
<rect x="1178.75" y="882.05" width="18.9" height="18.9" fill="#231f20"/>
<polyline fill="none" points="826.90,1025.40 917.10,906.20 1007.50,832.80 1097.90,753.30 1188.20,677.40"/>
<line x1="1007.50" y1="814.80" x2="1007.50" y2="850.80"/>
<line x1="1000.80" y1="814.80" x2="1014.20" y2="814.80"/>
<line x1="1000.80" y1="850.80" x2="1014.20" y2="850.80"/>
<line x1="1097.90" y1="722.60" x2="1097.90" y2="784.00"/>
<line x1="1091.20" y1="722.60" x2="1104.60" y2="722.60"/>
<line x1="1091.20" y1="784.00" x2="1104.60" y2="784.00"/>
<line x1="1188.20" y1="640.40" x2="1188.20" y2="714.40"/>
<line x1="1181.50" y1="640.40" x2="1194.90" y2="640.40"/>
<line x1="1181.50" y1="714.40" x2="1194.90" y2="714.40"/>
<rect x="817.45" y="1015.95" width="18.9" height="18.9" fill="#fff"/>
<rect x="907.65" y="896.75" width="18.9" height="18.9" fill="#fff"/>
<rect x="998.05" y="823.35" width="18.9" height="18.9" fill="#fff"/>
<rect x="1088.45" y="743.85" width="18.9" height="18.9" fill="#fff"/>
<rect x="1178.75" y="667.95" width="18.9" height="18.9" fill="#fff"/>
<polyline fill="none" points="826.90,1640.70 917.10,1632.00 1007.50,1358.00 1097.90,1297.20 1188.20,1270.70"/>
<line x1="1007.50" y1="1336.50" x2="1007.50" y2="1379.50"/>
<line x1="1000.80" y1="1336.50" x2="1014.20" y2="1336.50"/>
<line x1="1000.80" y1="1379.50" x2="1014.20" y2="1379.50"/>
<line x1="1097.90" y1="1277.90" x2="1097.90" y2="1316.50"/>
<line x1="1091.20" y1="1277.90" x2="1104.60" y2="1277.90"/>
<line x1="1091.20" y1="1316.50" x2="1104.60" y2="1316.50"/>
<line x1="1188.20" y1="1253.70" x2="1188.20" y2="1287.70"/>
<line x1="1181.50" y1="1253.70" x2="1194.90" y2="1253.70"/>
<line x1="1181.50" y1="1287.70" x2="1194.90" y2="1287.70"/>
<circle cx="826.90" cy="1640.70" r="11.1" fill="#231f20"/>
<circle cx="917.10" cy="1632.00" r="11.1" fill="#231f20"/>
<circle cx="1007.50" cy="1358.00" r="11.1" fill="#231f20"/>
<circle cx="1097.90" cy="1297.20" r="11.1" fill="#231f20"/>
<circle cx="1188.20" cy="1270.70" r="11.1" fill="#231f20"/>
<polyline fill="none" points="826.90,1640.70 917.10,1633.00 1007.50,1401.00 1097.90,1389.00 1188.20,1374.90"/>
<line x1="1007.50" y1="1383.00" x2="1007.50" y2="1419.00"/>
<line x1="1000.80" y1="1383.00" x2="1014.20" y2="1383.00"/>
<line x1="1000.80" y1="1419.00" x2="1014.20" y2="1419.00"/>
<line x1="1097.90" y1="1371.00" x2="1097.90" y2="1407.00"/>
<line x1="1091.20" y1="1371.00" x2="1104.60" y2="1371.00"/>
<line x1="1091.20" y1="1407.00" x2="1104.60" y2="1407.00"/>
<line x1="1188.20" y1="1362.90" x2="1188.20" y2="1386.90"/>
<line x1="1181.50" y1="1362.90" x2="1194.90" y2="1362.90"/>
<line x1="1181.50" y1="1386.90" x2="1194.90" y2="1386.90"/>
<circle cx="826.90" cy="1640.70" r="11.1" fill="#fff"/>
<circle cx="917.10" cy="1633.00" r="11.1" fill="#fff"/>
<circle cx="1007.50" cy="1401.00" r="11.1" fill="#fff"/>
<circle cx="1097.90" cy="1389.00" r="11.1" fill="#fff"/>
<circle cx="1188.20" cy="1374.90" r="11.1" fill="#fff"/>
<polyline fill="none" points="826.90,1640.70 917.10,1633.00 1007.50,1428.70 1097.90,1399.40 1188.20,1384.40"/>
<line x1="1188.20" y1="1369.90" x2="1188.20" y2="1398.90"/>
<line x1="1181.50" y1="1369.90" x2="1194.90" y2="1369.90"/>
<line x1="1181.50" y1="1398.90" x2="1194.90" y2="1398.90"/>
<polygon points="815.60,1634.18 838.20,1634.18 826.90,1653.75" fill="#231f20"/>
<polygon points="905.80,1626.48 928.40,1626.48 917.10,1646.05" fill="#231f20"/>
<polygon points="996.20,1422.18 1018.80,1422.18 1007.50,1441.75" fill="#231f20"/>
<polygon points="1086.60,1392.88 1109.20,1392.88 1097.90,1412.45" fill="#231f20"/>
<polygon points="1176.90,1377.88 1199.50,1377.88 1188.20,1397.45" fill="#231f20"/>
<polyline fill="none" points="826.90,1640.70 917.10,1633.00 1007.50,1439.50 1097.90,1420.00 1188.20,1398.00"/>
<line x1="1188.20" y1="1384.00" x2="1188.20" y2="1412.00"/>
<line x1="1181.50" y1="1384.00" x2="1194.90" y2="1384.00"/>
<line x1="1181.50" y1="1412.00" x2="1194.90" y2="1412.00"/>
<polygon points="815.60,1647.22 838.20,1647.22 826.90,1627.65" fill="#fff"/>
<polygon points="905.80,1639.52 928.40,1639.52 917.10,1619.95" fill="#fff"/>
<polygon points="996.20,1446.02 1018.80,1446.02 1007.50,1426.45" fill="#fff"/>
<polygon points="1086.60,1426.52 1109.20,1426.52 1097.90,1406.95" fill="#fff"/>
<polygon points="1176.90,1404.52 1199.50,1404.52 1188.20,1384.95" fill="#fff"/>
<polyline fill="none" points="826.90,1640.70 917.10,1634.50 1007.50,1441.30 1097.90,1427.00 1188.20,1399.40"/>
<line x1="1097.90" y1="1413.40" x2="1097.90" y2="1440.60"/>
<line x1="1091.20" y1="1413.40" x2="1104.60" y2="1413.40"/>
<line x1="1091.20" y1="1440.60" x2="1104.60" y2="1440.60"/>
<line x1="1188.20" y1="1377.40" x2="1188.20" y2="1421.40"/>
<line x1="1181.50" y1="1377.40" x2="1194.90" y2="1377.40"/>
<line x1="1181.50" y1="1421.40" x2="1194.90" y2="1421.40"/>
<rect x="817.45" y="1631.25" width="18.9" height="18.9" fill="#231f20"/>
<rect x="907.65" y="1625.05" width="18.9" height="18.9" fill="#231f20"/>
<rect x="998.05" y="1431.85" width="18.9" height="18.9" fill="#231f20"/>
<rect x="1088.45" y="1417.55" width="18.9" height="18.9" fill="#231f20"/>
<rect x="1178.75" y="1389.95" width="18.9" height="18.9" fill="#231f20"/>
<polyline fill="none" points="826.90,1638.00 917.10,1616.20 1007.50,1377.40 1097.90,1393.00 1188.20,1353.60"/>
<line x1="1007.50" y1="1357.70" x2="1007.50" y2="1397.10"/>
<line x1="1000.80" y1="1357.70" x2="1014.20" y2="1357.70"/>
<line x1="1000.80" y1="1397.10" x2="1014.20" y2="1397.10"/>
<line x1="1097.90" y1="1369.20" x2="1097.90" y2="1416.80"/>
<line x1="1091.20" y1="1369.20" x2="1104.60" y2="1369.20"/>
<line x1="1091.20" y1="1416.80" x2="1104.60" y2="1416.80"/>
<line x1="1188.20" y1="1329.00" x2="1188.20" y2="1378.20"/>
<line x1="1181.50" y1="1329.00" x2="1194.90" y2="1329.00"/>
<line x1="1181.50" y1="1378.20" x2="1194.90" y2="1378.20"/>
<rect x="817.45" y="1628.55" width="18.9" height="18.9" fill="#fff"/>
<rect x="907.65" y="1606.75" width="18.9" height="18.9" fill="#fff"/>
<rect x="998.05" y="1367.95" width="18.9" height="18.9" fill="#fff"/>
<rect x="1088.45" y="1383.55" width="18.9" height="18.9" fill="#fff"/>
<rect x="1178.75" y="1344.15" width="18.9" height="18.9" fill="#fff"/>
</g>
<g fill="#231f20" stroke="#231f20" stroke-width="0.35" font-family="Liberation Sans, sans-serif">
<text x="132.97" y="476.50" font-size="30.5">50</text>
<text x="116.01" y="385.50" font-size="30.5"> 00</text>
<path d="M763 0L583 0L583 1147Q518 1085 412.5 1023Q307 961 223 930L223 1104Q374 1175 487 1276Q600 1377 647 1472L763 1472Z" transform="translate(116.01,385.50) scale(0.01489,-0.01489)" stroke-width="23.50"/>
<text x="116.01" y="294.40" font-size="30.5"> 50</text>
<path d="M763 0L583 0L583 1147Q518 1085 412.5 1023Q307 961 223 930L223 1104Q374 1175 487 1276Q600 1377 647 1472L763 1472Z" transform="translate(116.01,294.40) scale(0.01489,-0.01489)" stroke-width="23.50"/>
<text x="116.01" y="203.30" font-size="30.5">200</text>
<text x="116.01" y="112.80" font-size="30.5">250</text>
<text x="116.01" y="22.40" font-size="30.5">300</text>
<text x="132.97" y="1048.00" font-size="30.5">20</text>
<text x="132.97" y="983.70" font-size="30.5">40</text>
<text x="132.97" y="919.40" font-size="30.5">60</text>
<text x="132.97" y="855.10" font-size="30.5">80</text>
<text x="116.01" y="790.80" font-size="30.5"> 00</text>
<path d="M763 0L583 0L583 1147Q518 1085 412.5 1023Q307 961 223 930L223 1104Q374 1175 487 1276Q600 1377 647 1472L763 1472Z" transform="translate(116.01,790.80) scale(0.01489,-0.01489)" stroke-width="23.50"/>
<text x="116.01" y="726.50" font-size="30.5"> 20</text>
<path d="M763 0L583 0L583 1147Q518 1085 412.5 1023Q307 961 223 930L223 1104Q374 1175 487 1276Q600 1377 647 1472L763 1472Z" transform="translate(116.01,726.50) scale(0.01489,-0.01489)" stroke-width="23.50"/>
<text x="116.01" y="662.20" font-size="30.5"> 40</text>
<path d="M763 0L583 0L583 1147Q518 1085 412.5 1023Q307 961 223 930L223 1104Q374 1175 487 1276Q600 1377 647 1472L763 1472Z" transform="translate(116.01,662.20) scale(0.01489,-0.01489)" stroke-width="23.50"/>
<text x="116.01" y="597.90" font-size="30.5"> 60</text>
<path d="M763 0L583 0L583 1147Q518 1085 412.5 1023Q307 961 223 930L223 1104Q374 1175 487 1276Q600 1377 647 1472L763 1472Z" transform="translate(116.01,597.90) scale(0.01489,-0.01489)" stroke-width="23.50"/>
<text x="149.94" y="1651.80" font-size="30.5">0</text>
<text x="132.97" y="1553.10" font-size="30.5">20</text>
<text x="132.97" y="1454.40" font-size="30.5">40</text>
<text x="132.97" y="1355.70" font-size="30.5">60</text>
<text x="132.97" y="1257.00" font-size="30.5">80</text>
<text x="116.01" y="1158.30" font-size="30.5"> 00</text>
<path d="M763 0L583 0L583 1147Q518 1085 412.5 1023Q307 961 223 930L223 1104Q374 1175 487 1276Q600 1377 647 1472L763 1472Z" transform="translate(116.01,1158.30) scale(0.01489,-0.01489)" stroke-width="23.50"/>
<text x="1306.70" y="476.50" font-size="30.5">500</text>
<text x="1306.70" y="385.50" font-size="30.5"> 000</text>
<path d="M763 0L583 0L583 1147Q518 1085 412.5 1023Q307 961 223 930L223 1104Q374 1175 487 1276Q600 1377 647 1472L763 1472Z" transform="translate(1306.70,385.50) scale(0.01489,-0.01489)" stroke-width="23.50"/>
<text x="1306.70" y="294.40" font-size="30.5"> 500</text>
<path d="M763 0L583 0L583 1147Q518 1085 412.5 1023Q307 961 223 930L223 1104Q374 1175 487 1276Q600 1377 647 1472L763 1472Z" transform="translate(1306.70,294.40) scale(0.01489,-0.01489)" stroke-width="23.50"/>
<text x="1306.70" y="203.30" font-size="30.5">2000</text>
<text x="1306.70" y="112.80" font-size="30.5">2500</text>
<text x="1306.70" y="22.40" font-size="30.5">3000</text>
<text x="1306.70" y="1045.40" font-size="30.5">200</text>
<text x="1306.70" y="981.40" font-size="30.5">400</text>
<text x="1306.70" y="917.40" font-size="30.5">600</text>
<text x="1306.70" y="853.40" font-size="30.5">800</text>
<text x="1306.70" y="789.40" font-size="30.5"> 000</text>
<path d="M763 0L583 0L583 1147Q518 1085 412.5 1023Q307 961 223 930L223 1104Q374 1175 487 1276Q600 1377 647 1472L763 1472Z" transform="translate(1306.70,789.40) scale(0.01489,-0.01489)" stroke-width="23.50"/>
<text x="1306.70" y="725.40" font-size="30.5"> 200</text>
<path d="M763 0L583 0L583 1147Q518 1085 412.5 1023Q307 961 223 930L223 1104Q374 1175 487 1276Q600 1377 647 1472L763 1472Z" transform="translate(1306.70,725.40) scale(0.01489,-0.01489)" stroke-width="23.50"/>
<text x="1306.70" y="661.40" font-size="30.5"> 400</text>
<path d="M763 0L583 0L583 1147Q518 1085 412.5 1023Q307 961 223 930L223 1104Q374 1175 487 1276Q600 1377 647 1472L763 1472Z" transform="translate(1306.70,661.40) scale(0.01489,-0.01489)" stroke-width="23.50"/>
<text x="1306.70" y="597.40" font-size="30.5"> 600</text>
<path d="M763 0L583 0L583 1147Q518 1085 412.5 1023Q307 961 223 930L223 1104Q374 1175 487 1276Q600 1377 647 1472L763 1472Z" transform="translate(1306.70,597.40) scale(0.01489,-0.01489)" stroke-width="23.50"/>
<text x="1306.70" y="1651.80" font-size="30.5">0</text>
<text x="1306.70" y="1531.13" font-size="30.5">200</text>
<text x="1306.70" y="1410.46" font-size="30.5">400</text>
<text x="1306.70" y="1289.79" font-size="30.5">600</text>
<text x="1306.70" y="1169.12" font-size="30.5">800</text>
<text x="268.14" y="1697.00" font-size="30.5">37</text>
<text x="358.54" y="1697.00" font-size="30.5">54</text>
<text x="448.84" y="1697.00" font-size="30.5">69</text>
<text x="530.66" y="1697.00" font-size="30.5">  5</text>
<path d="M763 0L583 0L583 1147Q518 1085 412.5 1023Q307 961 223 930L223 1104Q374 1175 487 1276Q600 1377 647 1472L763 1472Z" transform="translate(530.66,1697.00) scale(0.01489,-0.01489)" stroke-width="23.50"/>
<path d="M763 0L583 0L583 1147Q518 1085 412.5 1023Q307 961 223 930L223 1104Q374 1175 487 1276Q600 1377 647 1472L763 1472Z" transform="translate(547.62,1697.00) scale(0.01489,-0.01489)" stroke-width="23.50"/>
<text x="620.96" y="1697.00" font-size="30.5"> 58</text>
<path d="M763 0L583 0L583 1147Q518 1085 412.5 1023Q307 961 223 930L223 1104Q374 1175 487 1276Q600 1377 647 1472L763 1472Z" transform="translate(620.96,1697.00) scale(0.01489,-0.01489)" stroke-width="23.50"/>
<text x="809.94" y="1697.00" font-size="30.5">37</text>
<text x="900.14" y="1697.00" font-size="30.5">54</text>
<text x="990.54" y="1697.00" font-size="30.5">69</text>
<text x="1072.46" y="1697.00" font-size="30.5">  5</text>
<path d="M763 0L583 0L583 1147Q518 1085 412.5 1023Q307 961 223 930L223 1104Q374 1175 487 1276Q600 1377 647 1472L763 1472Z" transform="translate(1072.46,1697.00) scale(0.01489,-0.01489)" stroke-width="23.50"/>
<path d="M763 0L583 0L583 1147Q518 1085 412.5 1023Q307 961 223 930L223 1104Q374 1175 487 1276Q600 1377 647 1472L763 1472Z" transform="translate(1089.42,1697.00) scale(0.01489,-0.01489)" stroke-width="23.50"/>
<text x="1162.76" y="1697.00" font-size="30.5"> 58</text>
<path d="M763 0L583 0L583 1147Q518 1085 412.5 1023Q307 961 223 930L223 1104Q374 1175 487 1276Q600 1377 647 1472L763 1472Z" transform="translate(1162.76,1697.00) scale(0.01489,-0.01489)" stroke-width="23.50"/>
<text x="219.57" y="64.70" font-size="38.2">Field trial</text>
<text x="761.27" y="64.00" font-size="38.2">Pot trial</text>
<text x="684.00" y="70.20" font-size="38.2">A</text>
<text x="1219.84" y="58.40" font-size="38.2">D</text>
<text x="681.34" y="608.00" font-size="38.2">B</text>
<text x="1225.16" y="599.00" font-size="38.2">E</text>
<text x="691.87" y="1159.00" font-size="38.2">C</text>
<text x="1228.30" y="1153.80" font-size="38.2">F</text>
<text x="556.35" y="1772.50" font-size="38.35">Day after emergence (d)</text>
<text x="328.01" y="196.71" font-size="23">FT </text>
<path d="M763 0L583 0L583 1147Q518 1085 412.5 1023Q307 961 223 930L223 1104Q374 1175 487 1276Q600 1377 647 1472L763 1472Z" transform="translate(356.11,196.71) scale(0.01123,-0.01123)" stroke-width="31.17"/>
<text x="328.01" y="231.91" font-size="23">FT2</text>
<text x="328.01" y="266.41" font-size="23">FT3</text>
<text x="328.01" y="301.31" font-size="23">FT4</text>
<text x="328.01" y="336.21" font-size="23">FT5</text>
<text x="328.01" y="370.61" font-size="23">FT6</text>
</g>
<g stroke="#231f20" stroke-width="1.55">
<line x1="262.90" y1="187.80" x2="315.90" y2="187.80"/>
<circle cx="289.30" cy="187.80" r="11.1" fill="#231f20"/>
<line x1="262.90" y1="223.00" x2="315.90" y2="223.00"/>
<circle cx="289.30" cy="223.00" r="11.1" fill="#fff"/>
<line x1="262.90" y1="257.50" x2="315.90" y2="257.50"/>
<polygon points="278.00,250.98 300.60,250.98 289.30,270.55" fill="#231f20"/>
<line x1="262.90" y1="292.40" x2="315.90" y2="292.40"/>
<polygon points="278.00,298.92 300.60,298.92 289.30,279.35" fill="#fff"/>
<line x1="262.90" y1="327.30" x2="315.90" y2="327.30"/>
<rect x="279.85" y="317.85" width="18.9" height="18.9" fill="#231f20"/>
<line x1="262.90" y1="361.70" x2="315.90" y2="361.70"/>
<rect x="279.85" y="352.25" width="18.9" height="18.9" fill="#fff"/>
</g>
<g stroke="#231f20" stroke-width="0.35"><g transform="translate(27.50,536.00) rotate(-90)"><text x="-3.13" y="0" font-size="38.2" fill="#231f20" font-family="Liberation Sans, sans-serif" xml:space="preserve"><tspan>K accumulated in cotton plant</tspan></text></g>
<g transform="translate(74.60,351.70) rotate(-90)"><text x="-2.37" y="0" font-size="38.2" fill="#231f20" font-family="Liberation Sans, sans-serif" xml:space="preserve"><tspan>(kg ha</tspan><tspan font-size="24.5" dx="2.0" dy="-20.5">- </tspan><tspan font-size="38.2" dx="1.0" dy="20.5">)</tspan></text><path d="M763 0L583 0L583 1147Q518 1085 412.5 1023Q307 961 223 930L223 1104Q374 1175 487 1276Q600 1377 647 1472L763 1472Z" transform="translate(113.96,-20.50) scale(0.01196,-0.01196)" stroke-width="29.26"/></g>
<g transform="translate(27.50,1067.10) rotate(-90)"><text x="-3.13" y="0" font-size="38.2" fill="#231f20" font-family="Liberation Sans, sans-serif" xml:space="preserve"><tspan>K accumulated in vegetative</tspan></text></g>
<g transform="translate(74.80,976.90) rotate(-90)"><text x="-1.06" y="0" font-size="38.2" fill="#231f20" font-family="Liberation Sans, sans-serif" xml:space="preserve"><tspan>structure (kg ha</tspan><tspan font-size="24.5" dx="2.0" dy="-20.5">- </tspan><tspan font-size="38.2" dx="1.0" dy="20.5">)</tspan></text><path d="M763 0L583 0L583 1147Q518 1085 412.5 1023Q307 961 223 930L223 1104Q374 1175 487 1276Q600 1377 647 1472L763 1472Z" transform="translate(274.48,-20.50) scale(0.01196,-0.01196)" stroke-width="29.26"/></g>
<g transform="translate(27.50,1628.80) rotate(-90)"><text x="-3.13" y="0" font-size="38.2" fill="#231f20" font-family="Liberation Sans, sans-serif" xml:space="preserve"><tspan>K accumulated in reproductive</tspan></text></g>
<g transform="translate(74.70,1524.80) rotate(-90)"><text x="-1.06" y="0" font-size="38.2" fill="#231f20" font-family="Liberation Sans, sans-serif" xml:space="preserve"><tspan>structure  (kg ha</tspan><tspan font-size="24.5" dx="2.0" dy="-20.5">- </tspan><tspan font-size="38.2" dx="1.0" dy="20.5">)</tspan></text><path d="M763 0L583 0L583 1147Q518 1085 412.5 1023Q307 961 223 930L223 1104Q374 1175 487 1276Q600 1377 647 1472L763 1472Z" transform="translate(285.09,-20.50) scale(0.01196,-0.01196)" stroke-width="29.26"/></g>
<g transform="translate(1444.80,535.80) rotate(-90)"><text x="-3.13" y="0" font-size="38.2" fill="#231f20" font-family="Liberation Sans, sans-serif" xml:space="preserve"><tspan>K accumulated in cotton plant</tspan></text></g>
<g transform="translate(1492.00,378.40) rotate(-90)"><text x="-2.37" y="0" font-size="38.2" fill="#231f20" font-family="Liberation Sans, sans-serif" xml:space="preserve"><tspan>(mg plant</tspan><tspan font-size="24.5" dx="2.0" dy="-20.5">- </tspan><tspan font-size="38.2" dx="1.0" dy="20.5">)</tspan></text><path d="M763 0L583 0L583 1147Q518 1085 412.5 1023Q307 961 223 930L223 1104Q374 1175 487 1276Q600 1377 647 1472L763 1472Z" transform="translate(167.02,-20.50) scale(0.01196,-0.01196)" stroke-width="29.26"/></g>
<g transform="translate(1444.60,1068.60) rotate(-90)"><text x="-3.13" y="0" font-size="38.2" fill="#231f20" font-family="Liberation Sans, sans-serif" xml:space="preserve"><tspan>K accumulated in vegetative</tspan></text></g>
<g transform="translate(1492.00,1002.90) rotate(-90)"><text x="-1.06" y="0" font-size="38.2" fill="#231f20" font-family="Liberation Sans, sans-serif" xml:space="preserve"><tspan>structure (mg plant</tspan><tspan font-size="24.5" dx="2.0" dy="-20.5">- </tspan><tspan font-size="38.2" dx="1.0" dy="20.5">)</tspan></text><path d="M763 0L583 0L583 1147Q518 1085 412.5 1023Q307 961 223 930L223 1104Q374 1175 487 1276Q600 1377 647 1472L763 1472Z" transform="translate(327.55,-20.50) scale(0.01196,-0.01196)" stroke-width="29.26"/></g>
<g transform="translate(1437.40,1628.60) rotate(-90)"><text x="-3.13" y="0" font-size="38.2" fill="#231f20" font-family="Liberation Sans, sans-serif" xml:space="preserve"><tspan>K accumulated in reproductive</tspan></text></g>
<g transform="translate(1484.70,1544.80) rotate(-90)"><text x="-1.06" y="0" font-size="38.2" fill="#231f20" font-family="Liberation Sans, sans-serif" xml:space="preserve"><tspan>structure (mg plant</tspan><tspan font-size="24.5" dx="2.0" dy="-20.5">- </tspan><tspan font-size="38.2" dx="1.0" dy="20.5">)</tspan></text><path d="M763 0L583 0L583 1147Q518 1085 412.5 1023Q307 961 223 930L223 1104Q374 1175 487 1276Q600 1377 647 1472L763 1472Z" transform="translate(327.55,-20.50) scale(0.01196,-0.01196)" stroke-width="29.26"/></g></g>
</svg>
</body></html>
